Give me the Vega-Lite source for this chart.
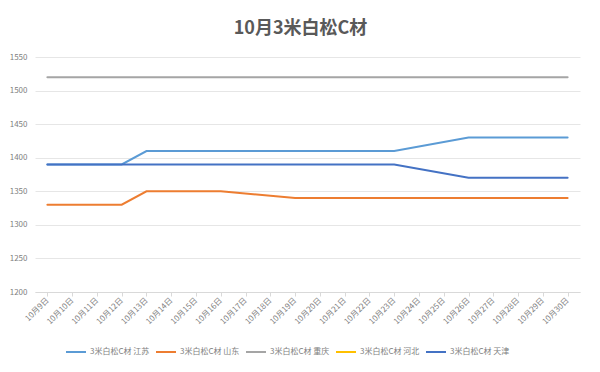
{
  "$schema": "https://vega.github.io/schema/vega-lite/v6.json",
  "autosize": {"type": "none"},
  "width": 545,
  "height": 235,
  "padding": {"left": 35, "top": 57, "right": 20, "bottom": 80},
  "background": "white",
  "config": {
    "font": "Noto Sans CJK SC",
    "view": {"stroke": null}
  },
  "title": {
    "text": "10月3米白松C材",
    "fontSize": 18,
    "fontWeight": "bold",
    "color": "#595959",
    "anchor": "middle",
    "offset": 15,
    "dx": -7
  },
  "data": {
    "values": [
      {"date": "10月9日", "series": "3米白松C材 江苏", "price": 1390},
      {"date": "10月12日", "series": "3米白松C材 江苏", "price": 1390},
      {"date": "10月13日", "series": "3米白松C材 江苏", "price": 1410},
      {"date": "10月14日", "series": "3米白松C材 江苏", "price": 1410},
      {"date": "10月15日", "series": "3米白松C材 江苏", "price": 1410},
      {"date": "10月16日", "series": "3米白松C材 江苏", "price": 1410},
      {"date": "10月19日", "series": "3米白松C材 江苏", "price": 1410},
      {"date": "10月20日", "series": "3米白松C材 江苏", "price": 1410},
      {"date": "10月21日", "series": "3米白松C材 江苏", "price": 1410},
      {"date": "10月22日", "series": "3米白松C材 江苏", "price": 1410},
      {"date": "10月23日", "series": "3米白松C材 江苏", "price": 1410},
      {"date": "10月26日", "series": "3米白松C材 江苏", "price": 1430},
      {"date": "10月27日", "series": "3米白松C材 江苏", "price": 1430},
      {"date": "10月28日", "series": "3米白松C材 江苏", "price": 1430},
      {"date": "10月29日", "series": "3米白松C材 江苏", "price": 1430},
      {"date": "10月30日", "series": "3米白松C材 江苏", "price": 1430},

      {"date": "10月9日", "series": "3米白松C材 山东", "price": 1330},
      {"date": "10月12日", "series": "3米白松C材 山东", "price": 1330},
      {"date": "10月13日", "series": "3米白松C材 山东", "price": 1350},
      {"date": "10月14日", "series": "3米白松C材 山东", "price": 1350},
      {"date": "10月15日", "series": "3米白松C材 山东", "price": 1350},
      {"date": "10月16日", "series": "3米白松C材 山东", "price": 1350},
      {"date": "10月19日", "series": "3米白松C材 山东", "price": 1340},
      {"date": "10月20日", "series": "3米白松C材 山东", "price": 1340},
      {"date": "10月21日", "series": "3米白松C材 山东", "price": 1340},
      {"date": "10月22日", "series": "3米白松C材 山东", "price": 1340},
      {"date": "10月23日", "series": "3米白松C材 山东", "price": 1340},
      {"date": "10月26日", "series": "3米白松C材 山东", "price": 1340},
      {"date": "10月27日", "series": "3米白松C材 山东", "price": 1340},
      {"date": "10月28日", "series": "3米白松C材 山东", "price": 1340},
      {"date": "10月29日", "series": "3米白松C材 山东", "price": 1340},
      {"date": "10月30日", "series": "3米白松C材 山东", "price": 1340},

      {"date": "10月9日", "series": "3米白松C材 重庆", "price": 1520},
      {"date": "10月12日", "series": "3米白松C材 重庆", "price": 1520},
      {"date": "10月13日", "series": "3米白松C材 重庆", "price": 1520},
      {"date": "10月14日", "series": "3米白松C材 重庆", "price": 1520},
      {"date": "10月15日", "series": "3米白松C材 重庆", "price": 1520},
      {"date": "10月16日", "series": "3米白松C材 重庆", "price": 1520},
      {"date": "10月19日", "series": "3米白松C材 重庆", "price": 1520},
      {"date": "10月20日", "series": "3米白松C材 重庆", "price": 1520},
      {"date": "10月21日", "series": "3米白松C材 重庆", "price": 1520},
      {"date": "10月22日", "series": "3米白松C材 重庆", "price": 1520},
      {"date": "10月23日", "series": "3米白松C材 重庆", "price": 1520},
      {"date": "10月26日", "series": "3米白松C材 重庆", "price": 1520},
      {"date": "10月27日", "series": "3米白松C材 重庆", "price": 1520},
      {"date": "10月28日", "series": "3米白松C材 重庆", "price": 1520},
      {"date": "10月29日", "series": "3米白松C材 重庆", "price": 1520},
      {"date": "10月30日", "series": "3米白松C材 重庆", "price": 1520},

      {"date": "10月9日", "series": "3米白松C材 天津", "price": 1390},
      {"date": "10月12日", "series": "3米白松C材 天津", "price": 1390},
      {"date": "10月13日", "series": "3米白松C材 天津", "price": 1390},
      {"date": "10月14日", "series": "3米白松C材 天津", "price": 1390},
      {"date": "10月15日", "series": "3米白松C材 天津", "price": 1390},
      {"date": "10月16日", "series": "3米白松C材 天津", "price": 1390},
      {"date": "10月19日", "series": "3米白松C材 天津", "price": 1390},
      {"date": "10月20日", "series": "3米白松C材 天津", "price": 1390},
      {"date": "10月21日", "series": "3米白松C材 天津", "price": 1390},
      {"date": "10月22日", "series": "3米白松C材 天津", "price": 1390},
      {"date": "10月23日", "series": "3米白松C材 天津", "price": 1390},
      {"date": "10月26日", "series": "3米白松C材 天津", "price": 1370},
      {"date": "10月27日", "series": "3米白松C材 天津", "price": 1370},
      {"date": "10月28日", "series": "3米白松C材 天津", "price": 1370},
      {"date": "10月29日", "series": "3米白松C材 天津", "price": 1370},
      {"date": "10月30日", "series": "3米白松C材 天津", "price": 1370}
    ]
  },
  "mark": {"type": "line", "strokeWidth": 2, "strokeCap": "round"},
  "encoding": {
    "x": {
      "field": "date",
      "type": "ordinal",
      "scale": {
        "type": "point",
        "padding": 0.5,
        "domain": ["10月9日","10月10日","10月11日","10月12日","10月13日","10月14日","10月15日","10月16日","10月17日","10月18日","10月19日","10月20日","10月21日","10月22日","10月23日","10月24日","10月25日","10月26日","10月27日","10月28日","10月29日","10月30日"]
      },
      "axis": {
        "title": null,
        "labelAngle": -45,
        "labelAlign": "right",
        "labelBaseline": "middle",
        "labelFontSize": 8,
        "labelColor": "#808080",
        "domainColor": "#d9d9d9",
        "tickColor": "#d9d9d9",
        "tickSize": 4,
        "labelPadding": 3,
        "grid": false
      }
    },
    "y": {
      "field": "price",
      "type": "quantitative",
      "scale": {"domain": [1200, 1550], "nice": false, "zero": false},
      "axis": {
        "title": null,
        "values": [1200, 1250, 1300, 1350, 1400, 1450, 1500, 1550],
        "format": "d",
        "domain": false,
        "ticks": false,
        "labelFontSize": 8,
        "labelColor": "#808080",
        "labelPadding": 8,
        "gridColor": "#e6e6e6",
        "gridWidth": 1
      }
    },
    "color": {
      "field": "series",
      "type": "nominal",
      "scale": {
        "domain": ["3米白松C材 江苏", "3米白松C材 山东", "3米白松C材 重庆", "3米白松C材 河北", "3米白松C材 天津"],
        "range": ["#5b9bd5", "#ed7d31", "#a5a5a5", "#ffc000", "#4472c4"]
      },
      "legend": {
        "title": null,
        "orient": "none",
        "legendX": 30,
        "legendY": 284,
        "direction": "horizontal",
        "symbolType": "stroke",
        "symbolSize": 400,
        "symbolStrokeWidth": 2,
        "labelFontSize": 8,
        "labelColor": "#808080",
        "labelOffset": 3,
        "columnPadding": 2
      }
    }
  }
}
